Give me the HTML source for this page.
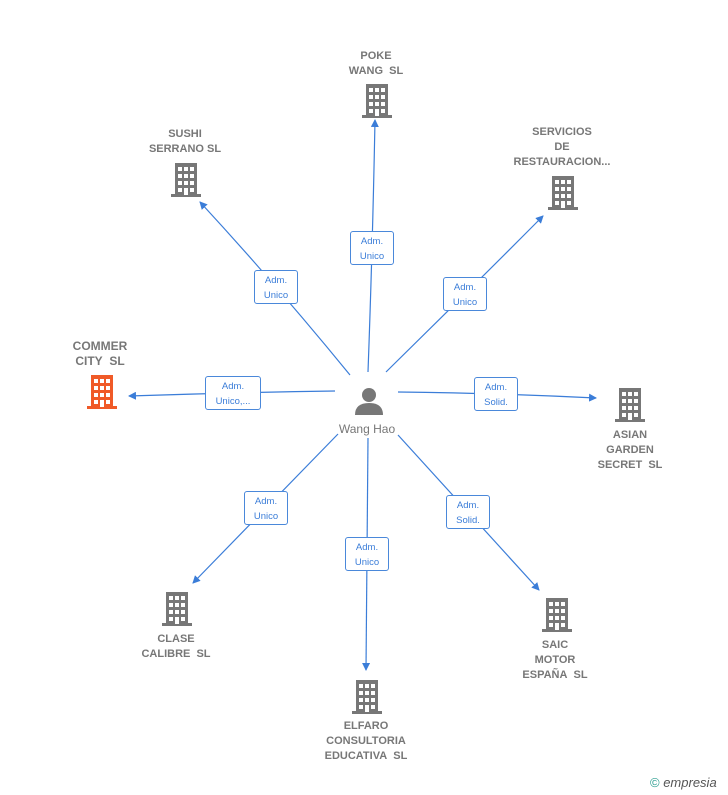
<!DOCTYPE html>
<html><head><meta charset="utf-8"><style>
html,body{margin:0;padding:0;background:#fff;}
body{width:728px;height:795px;position:relative;overflow:hidden;font-family:"Liberation Sans",Arial,sans-serif;}
.t{position:absolute;font-size:11px;color:#777;text-align:center;line-height:15px;font-weight:bold;transform:translateX(-50%);white-space:nowrap;}
.b{position:absolute;border:1px solid #4a88da;border-radius:3px;background:#fff;color:#3b7dd8;font-size:9.5px;line-height:15px;text-align:center;box-sizing:border-box;padding-top:2px;}
</style></head><body>
<svg width="728" height="795" style="position:absolute;left:0;top:0">
<defs>
<marker id="a" markerWidth="8" markerHeight="8" refX="7" refY="4" orient="auto" markerUnits="userSpaceOnUse"><path d="M0,0 L8,4 L0,8 Z" fill="#3b7dd8"/></marker>
<symbol id="bld" viewBox="0 0 32 34"><rect x="5" y="0" width="22" height="32" fill="currentColor"/><rect x="1" y="31" width="30" height="3" fill="currentColor"/>
<g fill="#fff"><rect x="8" y="4" width="4" height="4"/><rect x="14" y="4" width="4" height="4"/><rect x="20" y="4" width="4" height="4"/>
<rect x="8" y="11" width="4" height="4"/><rect x="14" y="11" width="4" height="4"/><rect x="20" y="11" width="4" height="4"/>
<rect x="8" y="18" width="4" height="4"/><rect x="14" y="18" width="4" height="4"/><rect x="20" y="18" width="4" height="4"/>
<rect x="8" y="25" width="4" height="4"/><rect x="14" y="25" width="4" height="7"/><rect x="20" y="25" width="4" height="4"/></g></symbol>
</defs>
<g fill="none" stroke="#3b7dd8" stroke-width="1.2" marker-end="url(#a)">
<path d="M368,372 Q372.5,250 375,120"/>
<path d="M350,375 Q277,285.5 200,202"/>
<path d="M386,372 Q465.5,294 543,216"/>
<path d="M335,391 Q234,392.5 129,396"/>
<path d="M398,392 Q495,393 596,398"/>
<path d="M338,434 Q266.5,507.5 193,583"/>
<path d="M368,438 Q367,554 366,670"/>
<path d="M398,435 Q467.5,511.5 539,590"/>
</g>
<g color="#777">
<use href="#bld" x="361" y="84" width="32" height="34"/>
<use href="#bld" x="170" y="163" width="32" height="34"/>
<use href="#bld" x="547" y="176" width="32" height="34"/>
<use href="#bld" x="614" y="388" width="32" height="34"/>
<use href="#bld" x="161" y="592" width="32" height="34"/>
<use href="#bld" x="351" y="680" width="32" height="34"/>
<use href="#bld" x="541" y="598" width="32" height="34"/>
</g>
<use href="#bld" x="86" y="375" width="32" height="34" color="#f05a28"/>
<g fill="#777"><circle cx="369" cy="395" r="7"/><path d="M355,415 Q355,403 369,403 Q383,403 383,415 Z"/></g>
</svg>
<div class="t" style="left:376px;top:49px">POKE<br>WANG&nbsp; SL</div>
<div class="t" style="left:185px;top:127px">SUSHI<br>SERRANO SL</div>
<div class="t" style="left:562px;top:125px">SERVICIOS<br>DE<br>RESTAURACION...</div>
<div class="t" style="left:100px;top:339px;font-size:12px">COMMER<br>CITY&nbsp; SL</div>
<div class="t" style="left:630px;top:428px">ASIAN<br>GARDEN<br>SECRET&nbsp; SL</div>
<div class="t" style="left:176px;top:632px">CLASE<br>CALIBRE&nbsp; SL</div>
<div class="t" style="left:366px;top:719px">ELFARO<br>CONSULTORIA<br>EDUCATIVA&nbsp; SL</div>
<div class="t" style="left:555px;top:638px">SAIC<br>MOTOR<br>ESPAÑA&nbsp; SL</div>
<div class="t" style="left:367px;top:422px;font-weight:normal;font-size:12px">Wang Hao</div>
<div class="b" style="left:350px;top:231px;width:44px;height:34px">Adm.<br>Unico</div>
<div class="b" style="left:254px;top:270px;width:44px;height:34px">Adm.<br>Unico</div>
<div class="b" style="left:443px;top:277px;width:44px;height:34px">Adm.<br>Unico</div>
<div class="b" style="left:205px;top:376px;width:56px;height:34px">Adm.<br>Unico,...</div>
<div class="b" style="left:474px;top:377px;width:44px;height:34px">Adm.<br>Solid.</div>
<div class="b" style="left:244px;top:491px;width:44px;height:34px">Adm.<br>Unico</div>
<div class="b" style="left:345px;top:537px;width:44px;height:34px">Adm.<br>Unico</div>
<div class="b" style="left:446px;top:495px;width:44px;height:34px">Adm.<br>Solid.</div>
<div style="position:absolute;left:650px;top:775px;font-size:13px;color:#2a9d8f">© <span style="font-style:italic;color:#555">empresia</span></div>
</body></html>
